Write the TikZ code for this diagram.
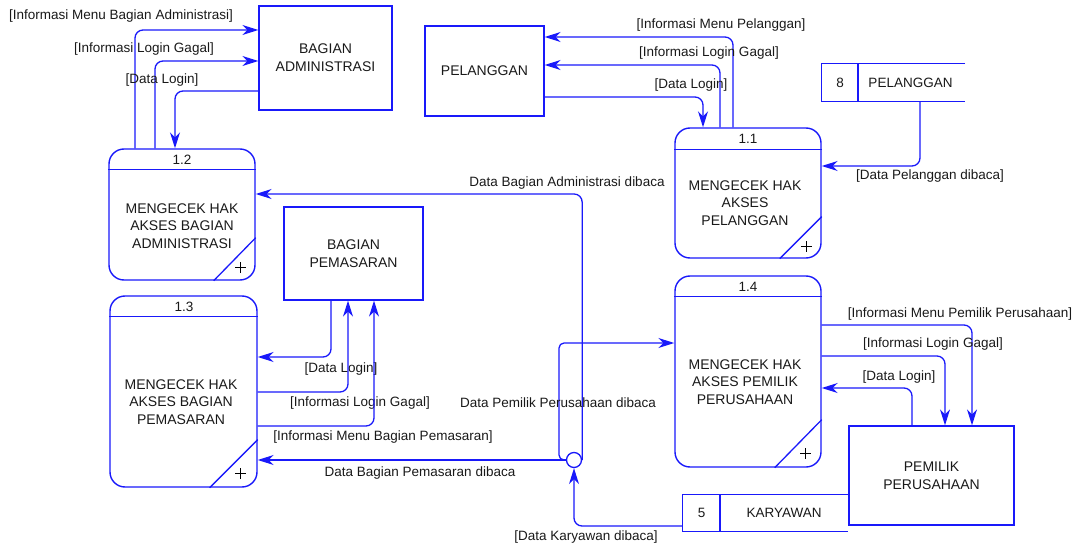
\documentclass[tikz,border=0pt]{standalone}
\usepackage{fontspec}
\setmainfont{Liberation Sans}
\usetikzlibrary{arrows.meta,calc}
\definecolor{vblue}{RGB}{25,25,250}
\definecolor{vtext}{RGB}{25,25,25}
\begin{document}
\begin{tikzpicture}[x=1pt,y=-1pt,
  every node/.style={font=\fontsize{13.5}{17}\selectfont, text=vtext, inner sep=0pt},
  ent/.style={draw=vblue, line width=1.3pt, align=center, font=\fontsize{14}{18}\selectfont},
  proc/.style={draw=vblue, line width=1.4pt, rounded corners=15pt},
  pline/.style={draw=vblue, line width=1.3pt},
  flow/.style={draw=vblue, line width=1.3pt, rounded corners=8pt, -{Stealth[length=16pt,width=10pt,inset=5pt]}},
  plus/.style={draw=black, line width=0.7pt},
  ptext/.style={align=center, font=\fontsize{14}{17.5}\selectfont}
]
\useasboundingbox (0,0) rectangle (1076,548);

% ---------- external entities ----------
\node[ent, minimum width=133pt, minimum height=104pt] (ba) at (325.5,58) {BAGIAN\\ADMINISTRASI};
\node[ent, minimum width=119pt, minimum height=90pt] (pel) at (484.5,71) {PELANGGAN};
\node[ent, minimum width=139pt, minimum height=93pt] (bp) at (353.5,253.5) {BAGIAN\\PEMASARAN};
\node[ent, minimum width=165pt, minimum height=99pt] (pp) at (931.5,475.5) {PEMILIK\\PERUSAHAAN};

% ---------- processes ----------
% 1.1
\node[proc, minimum width=146pt, minimum height=130pt] (p11) at (748,193) {};
\draw[pline] ([yshift=-22pt]p11.north west) -- ([yshift=-22pt]p11.north east);
\node (n11) at (748,139) {1.1};
\node[ptext] (t11) at (745,203) {MENGECEK HAK\\AKSES\\PELANGGAN};
\draw[pline] ([yshift=42pt]p11.south east) -- ([xshift=-42pt]p11.south east);
\draw[plus] ($(p11.south east)+(-20.5,-12)$) -- ++(11,0) ($(p11.south east)+(-15,-17.5)$) -- ++(0,11);

% 1.2
\node[proc, minimum width=146pt, minimum height=131pt] (p12) at (182,214.5) {};
\draw[pline] ([yshift=-21pt]p12.north west) -- ([yshift=-21pt]p12.north east);
\node (n12) at (182,160) {1.2};
\node[ptext] (t12) at (182,226) {MENGECEK HAK\\AKSES BAGIAN\\ADMINISTRASI};
\draw[pline] ([yshift=43pt]p12.south east) -- ([xshift=-42pt]p12.south east);
\draw[plus] ($(p12.south east)+(-20.5,-13)$) -- ++(11,0) ($(p12.south east)+(-15,-18.5)$) -- ++(0,11);

% 1.3
\node[proc, minimum width=147pt, minimum height=191pt] (p13) at (183.5,391.5) {};
\draw[pline] ([yshift=-21pt]p13.north west) -- ([yshift=-21pt]p13.north east);
\node (n13) at (184,307) {1.3};
\node[ptext] (t13) at (181,402) {MENGECEK HAK\\AKSES BAGIAN\\PEMASARAN};
\draw[pline] ([yshift=48pt]p13.south east) -- ([xshift=-48pt]p13.south east);
\draw[plus] ($(p13.south east)+(-22.5,-14)$) -- ++(11,0) ($(p13.south east)+(-17,-19.5)$) -- ++(0,11);

% 1.4
\node[proc, minimum width=146pt, minimum height=191pt] (p14) at (748,371.5) {};
\draw[pline] ([yshift=-21pt]p14.north west) -- ([yshift=-21pt]p14.north east);
\node (n14) at (748,287) {1.4};
\node[ptext] (t14) at (745,382) {MENGECEK HAK\\AKSES PEMILIK\\PERUSAHAAN};
\draw[pline] ([yshift=48pt]p14.south east) -- ([xshift=-47pt]p14.south east);
\draw[plus] ($(p14.south east)+(-21.5,-14)$) -- ++(11,0) ($(p14.south east)+(-16,-19.5)$) -- ++(0,11);

% ---------- data stores ----------
\node[minimum width=143pt, minimum height=37pt] (s8) at (893.5,82.5) {};
\draw[pline] (s8.north east) -- (s8.north west) -- (s8.south west) -- (s8.south east);
\draw[pline] (s8.north west -| 858,0) -- (s8.south west -| 858,0);
\node (s8n) at (840,82.5) {8};
\node (s8t) at (910.5,82.5) {PELANGGAN};

\node[minimum width=165pt, minimum height=36pt] (s5) at (765.5,513) {};
\draw[pline] (s5.north east) -- (s5.north west) -- (s5.south west) -- (s5.south east);
\draw[pline] (s5.north west -| 720,0) -- (s5.south west -| 720,0);
\node (s5n) at (701.5,513) {5};
\node (s5t) at (784,513) {KARYAWAN};

% ---------- junction ----------
\node[draw=vblue, line width=1.3pt, circle, minimum size=15pt, inner sep=0pt] (jn) at (574,460) {};

% ---------- flows: Bagian Administrasi ----------
\draw[flow] (p12.north -| 135,0) |- (ba.west |- 0,30);
\node (l1) at (121,16) {[Informasi Menu Bagian Administrasi]};
\draw[flow] (p12.north -| 155,0) |- (ba.west |- 0,61);
\node (l2) at (144,49) {[Informasi Login Gagal]};
\draw[flow] (ba.west |- 0,91) -| (p12.north -| 175,0);
\node (l3) at (162,80) {[Data Login]};

% ---------- flows: Pelanggan ----------
\draw[flow] (p11.north -| 733,0) |- (pel.east |- 0,37);
\node (l4) at (721,25) {[Informasi Menu Pelanggan]};
\draw[flow] (p11.north -| 720,0) |- (pel.east |- 0,65);
\node (l5) at (709,53) {[Informasi Login Gagal]};
\draw[flow] (pel.east |- 0,97) -| (p11.north -| 703,0);
\node (l6) at (691,85) {[Data Login]};
\draw[flow] (s8.south -| 920,0) |- (p11.east |- 0,166);
\node (l7) at (930,176) {[Data Pelanggan dibaca]};

% ---------- flows: junction ----------
\draw[flow] (jn.east) |- (p12.east |- 0,194);
\node (l8) at (567,183) {Data Bagian Administrasi dibaca};
\draw[flow] (jn.west) -- (p13.east |- jn.west);
\node (l12) at (420,473) {Data Bagian Pemasaran dibaca};
\draw[flow, rounded corners=5pt] (jn.west) -| (559,343) -- (p14.west |- 0,343);
\node (l13) at (558,403) {Data Pemilik Perusahaan dibaca};
\draw[flow] (s5.west |- 0,526) -| (jn.south);
\node (l14) at (586,537) {[Data Karyawan dibaca]};

% ---------- flows: Bagian Pemasaran ----------
\draw[flow] (bp.south -| 331,0) |- (p13.east |- 0,357);
\node (l9) at (341,369) {[Data Login]};
\draw[flow] (p13.east |- 0,392) -| (bp.south -| 348,0);
\node (l10) at (360,403) {[Informasi Login Gagal]};
\draw[flow] (p13.east |- 0,426) -| (bp.south -| 374,0);
\node (l11) at (383,437) {[Informasi Menu Bagian Pemasaran]};

% ---------- flows: Pemilik Perusahaan ----------
\draw[flow] (p14.east |- 0,325) -| (pp.north -| 972,0);
\node (l15) at (960,314) {[Informasi Menu Pemilik Perusahaan]};
\draw[flow] (p14.east |- 0,356) -| (pp.north -| 945,0);
\node (l16) at (933,344) {[Informasi Login Gagal]};
\draw[flow] (pp.north -| 912,0) |- (p14.east |- 0,388);
\node (l17) at (899,377) {[Data Login]};
\end{tikzpicture}
\end{document}
